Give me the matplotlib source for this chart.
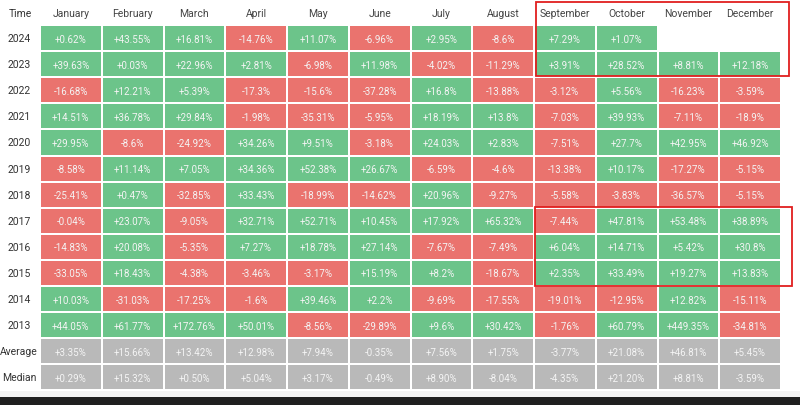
import matplotlib
matplotlib.use("Agg")
import matplotlib.pyplot as plt
from matplotlib.patches import Rectangle

# Monthly returns table (%), None = no data yet
months = ["January", "February", "March", "April", "May", "June", "July",
          "August", "September", "October", "November", "December"]
years = ["2024", "2023", "2022", "2021", "2020", "2019", "2018", "2017",
         "2016", "2015", "2014", "2013"]
returns = [
    [0.62, 43.55, 16.81, -14.76, 11.07, -6.96, 2.95, -8.6, 7.29, 1.07, None, None],
    [39.63, 0.03, 22.96, 2.81, -6.98, 11.98, -4.02, -11.29, 3.91, 28.52, 8.81, 12.18],
    [-16.68, 12.21, 5.39, -17.3, -15.6, -37.28, 16.8, -13.88, -3.12, 5.56, -16.23, -3.59],
    [14.51, 36.78, 29.84, -1.98, -35.31, -5.95, 18.19, 13.8, -7.03, 39.93, -7.11, -18.9],
    [29.95, -8.6, -24.92, 34.26, 9.51, -3.18, 24.03, 2.83, -7.51, 27.7, 42.95, 46.92],
    [-8.58, 11.14, 7.05, 34.36, 52.38, 26.67, -6.59, -4.6, -13.38, 10.17, -17.27, -5.15],
    [-25.41, 0.47, -32.85, 33.43, -18.99, -14.62, 20.96, -9.27, -5.58, -3.83, -36.57, -5.15],
    [-0.04, 23.07, -9.05, 32.71, 52.71, 10.45, 17.92, 65.32, -7.44, 47.81, 53.48, 38.89],
    [-14.83, 20.08, -5.35, 7.27, 18.78, 27.14, -7.67, -7.49, 6.04, 14.71, 5.42, 30.8],
    [-33.05, 18.43, -4.38, -3.46, -3.17, 15.19, 8.2, -18.67, 2.35, 33.49, 19.27, 13.83],
    [10.03, -31.03, -17.25, -1.6, 39.46, 2.2, -9.69, -17.55, -19.01, -12.95, 12.82, -15.11],
    [44.05, 61.77, 172.76, 50.01, -8.56, -29.89, 9.6, 30.42, -1.76, 60.79, 449.35, -34.81],
]
average = ["+3.35%", "+15.66%", "+13.42%", "+12.98%", "+7.94%", "-0.35%",
           "+7.56%", "+1.75%", "-3.77%", "+21.08%", "+46.81%", "+5.45%"]
median = ["+0.29%", "+15.32%", "+0.50%", "+5.04%", "+3.17%", "-0.49%",
          "+8.90%", "-8.04%", "-4.35%", "+21.20%", "+8.81%", "-3.59%"]

GREEN = "#6cc48a"
RED = "#ea736e"
GREY = "#b9b9b9"
FONT = "Roboto"

fig = plt.figure(figsize=(8, 4.06), dpi=100)
ax = fig.add_axes([0, 0, 1, 1])
ax.set_xlim(0, 800)
ax.set_ylim(406, 0)
ax.axis("off")

x0, col_w = 41, 61.75
y0, row_h = 27, 26.1
gap = 2


def cell(r, c, color, label):
    x = x0 + c * col_w
    y = y0 + r * row_h
    ax.add_patch(Rectangle((x, y), col_w - gap, row_h - gap, color=color, lw=0))
    ax.text(x + (col_w - gap) / 2, y + (row_h - gap) / 2 + 0.5, label,
            ha="center", va="center", fontsize=7, color="#f4f4f4", family=FONT)


def fmt(v):
    return f"+{v}%" if v >= 0 else f"{v}%"


# header
ax.text(20, 14, "Time", ha="center", va="center", fontsize=7.5, color="#333333", family=FONT)
for c, m in enumerate(months):
    ax.text(x0 + c * col_w + (col_w - gap) / 2, 14, m, ha="center", va="center",
            fontsize=7.5, color="#444444", family=FONT)

# yearly rows
for r, (yr, vals) in enumerate(zip(years, returns)):
    ax.text(19, y0 + r * row_h + (row_h - gap) / 2, yr, ha="center", va="center",
            fontsize=7.5, color="#333333", family=FONT)
    for c, v in enumerate(vals):
        if v is None:
            continue
        cell(r, c, GREEN if v >= 0 else RED, fmt(v))

# summary rows
for k, (name, vals) in enumerate([("Average", average), ("Median", median)]):
    r = len(years) + k
    ax.text(19, y0 + r * row_h + (row_h - gap) / 2, name, ha="center", va="center",
            fontsize=7.5, color="#333333", family=FONT)
    for c, s in enumerate(vals):
        cell(r, c, GREY, s)

# highlight boxes
ax.add_patch(Rectangle((536, 3), 253, 74, fill=False, ec="#e01f1f", lw=1.3))
ax.add_patch(Rectangle((535, 208), 257, 79, fill=False, ec="#e01f1f", lw=1.3))

# bottom strip of the screenshot
ax.add_patch(Rectangle((0, 392), 800, 6, color="#f3f3f3", lw=0))
ax.add_patch(Rectangle((0, 398), 800, 8, color="#1f1f1f", lw=0))

fig.savefig("out.png", dpi=100)
